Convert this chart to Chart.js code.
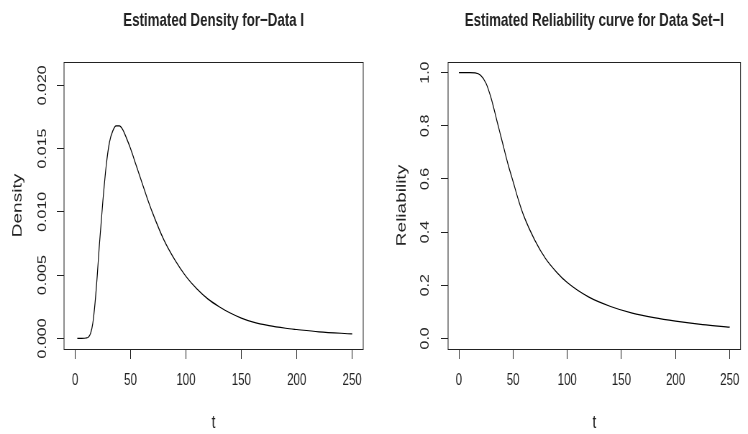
<!DOCTYPE html>
<html>
<head>
<meta charset="utf-8">
<script src="https://cdn.jsdelivr.net/npm/chart.js@4.4.1/dist/chart.umd.min.js"></script>
<style>
  html, body { margin: 0; padding: 0; background: #fff; }
  #wrap { display: flex; width: 748px; height: 434px; }
  .panel { width: 374px; height: 434px; overflow: hidden; }
  /* the reference is squeezed sideways, so each plot is drawn wide and scaled */
  .panel canvas { transform: scaleX(0.71923); transform-origin: 0 0; }
</style>
</head>
<body>
<div id="wrap">
  <div class="panel"><canvas id="density" width="520" height="434"></canvas></div>
  <div class="panel"><canvas id="reliability" width="520" height="434"></canvas></div>
</div>
<script>
// values
const densityT = [2, 6, 10, 12, 14, 16, 18, 20, 22, 25, 28, 31, 34, 37, 40, 43, 46, 50, 55, 60, 65, 70, 80, 90, 100, 110, 120, 130, 140, 150, 160, 175, 190, 200, 220, 250];
const densityValues = [0, 0, 0.00003, 0.0001, 0.0004, 0.0012, 0.0028, 0.005, 0.0075, 0.0108, 0.0136, 0.0155, 0.0164, 0.0168, 0.0168, 0.0165, 0.0159, 0.015, 0.0137, 0.0124, 0.0111, 0.0099, 0.0078, 0.0062, 0.0049, 0.0039, 0.0031, 0.0025, 0.002, 0.0016, 0.0013, 0.001, 0.0008, 0.0007, 0.00052, 0.00035];

const reliabilityT = [0, 10, 15, 20, 25, 30, 35, 40, 45, 50, 55, 60, 70, 80, 90, 100, 120, 140, 160, 180, 200, 225, 250];
const reliabilityValues = [1, 1, 0.999, 0.99, 0.96, 0.9, 0.82, 0.74, 0.66, 0.59, 0.52, 0.46, 0.37, 0.3, 0.25, 0.21, 0.155, 0.12, 0.095, 0.078, 0.065, 0.052, 0.042];

const tTicks = [0, 50, 100, 150, 200, 250];
const densityTicks = [0, 0.005, 0.01, 0.015, 0.02];
const densityTickLabels = ["0.000", "0.005", "0.010", "0.015", "0.020"];
const reliabilityTicks = [0, 0.2, 0.4, 0.6, 0.8, 1.0];
const reliabilityTickLabels = ["0.0", "0.2", "0.4", "0.6", "0.8", "1.0"];

const INK = "#222";
Chart.defaults.font.family = "'Liberation Sans', Arial, sans-serif";

// box around the plot region and the bold main title, R style
const boxPlugin = {
  id: "rbox",
  afterDraw(chart, args, opts) {
    const { ctx, chartArea: a } = chart;
    ctx.save();
    ctx.strokeStyle = INK;
    ctx.lineWidth = 1;
    ctx.strokeRect(a.left, a.top + 0.5, a.right - a.left, a.bottom - a.top);
    ctx.font = "bold 18.5px 'Liberation Sans', Arial, sans-serif";
    ctx.fillStyle = INK;
    ctx.textAlign = "center";
    ctx.textBaseline = "middle";
    ctx.fillText(opts.text, (a.left + a.right) / 2, 21);
    ctx.restore();
  }
};

function makePlot(id, cfg) {
  const ctx = document.getElementById(id).getContext("2d");
  return new Chart(ctx, {
    type: "line",
    data: {
      datasets: [{
        data: cfg.t.map((t, i) => ({ x: t, y: cfg.values[i] })),
        borderColor: "#000",
        borderWidth: 1.2,
        pointRadius: 0,
        cubicInterpolationMode: "monotone",
        fill: false
      }]
    },
    options: {
      responsive: false,
      devicePixelRatio: 1,
      animation: false,
      layout: { padding: { top: 62, left: 0, bottom: 0, right: 520 - cfg.plotRight } },
      plugins: {
        legend: { display: false },
        tooltip: { enabled: false },
        rbox: { text: cfg.title }
      },
      scales: {
        x: {
          type: "linear",
          min: -10,
          max: 260,
          afterBuildTicks: (s) => { s.ticks = tTicks.map(v => ({ value: v })); },
          afterFit: (s) => { s.height = 85; },
          border: { display: false },
          grid: { drawOnChartArea: false, tickLength: 10, color: INK },
          ticks: { color: INK, font: { size: 16 }, padding: 12, maxRotation: 0, autoSkip: false, callback: (v) => String(v) },
          title: { display: true, text: "t", color: INK, font: { size: 19 }, padding: { top: 0, bottom: 0 } }
        },
        y: {
          type: "linear",
          min: cfg.yMin,
          max: cfg.yMax,
          afterBuildTicks: (s) => { s.ticks = cfg.yTicks.map(v => ({ value: v })); },
          afterFit: (s) => { s.width = cfg.plotLeft; },
          border: { display: false },
          grid: { drawOnChartArea: false, tickLength: 10, color: INK },
          ticks: {
            color: INK, font: { size: 16 }, padding: cfg.labelPad,
            minRotation: 90, maxRotation: 90, crossAlign: "center", autoSkip: false,
            callback: (v, i) => cfg.yLabels[i]
          },
          title: { display: true, text: cfg.yTitle, color: INK, font: { size: 19 }, padding: { top: cfg.titlePad, bottom: 0 } }
        }
      }
    },
    plugins: [boxPlugin]
  });
}

makePlot("density", {
  title: "Estimated Density for\u2212Data I",
  yTitle: "Density",
  t: densityT,
  values: densityValues,
  yTicks: densityTicks,
  yLabels: densityTickLabels,
  yMin: -0.00084,
  yMax: 0.02184,
  plotLeft: 89,
  plotRight: 505,
  labelPad: -1,
  titlePad: 13
});

makePlot("reliability", {
  title: "Estimated Reliability curve for Data Set\u2212I",
  yTitle: "Reliability",
  t: reliabilityT,
  values: reliabilityValues,
  yTicks: reliabilityTicks,
  yLabels: reliabilityTickLabels,
  yMin: -0.04,
  yMax: 1.04,
  plotLeft: 103,
  plotRight: 518,
  labelPad: 10,
  titlePad: 27
});
</script>
</body>
</html>
